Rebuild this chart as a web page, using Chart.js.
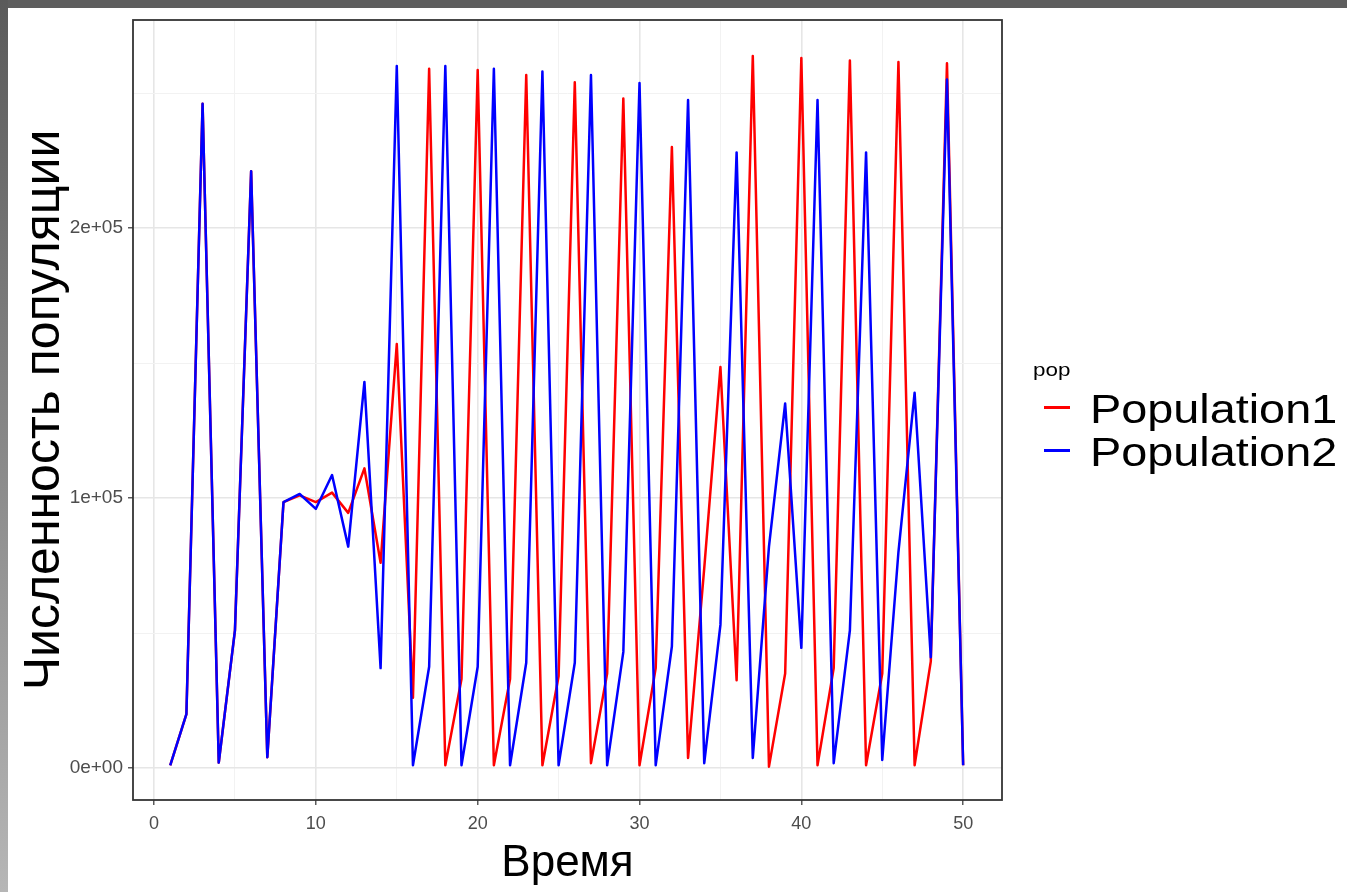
<!DOCTYPE html>
<html lang="ru">
<head>
    <meta charset="UTF-8">
    <title>Численность популяции</title>
    <style>
        * {
            margin: 0;
            padding: 0;
            box-sizing: border-box;
        }

        body {
            width: 1347px;
            height: 892px;
            background-color: #fff;
            overflow: hidden;
            position: relative;
            font-family: 'Liberation Sans', Arial, sans-serif;
        }

        .frame-top {
            position: absolute;
            left: 0;
            top: 0;
            width: 1347px;
            height: 8px;
            background-color: #5e5e5e;
        }

        .frame-left {
            position: absolute;
            left: 0;
            top: 0;
            width: 8px;
            height: 892px;
            background: linear-gradient(#5a5a5a, #b6b6b6);
        }

        #chart {
            position: absolute;
            left: 0;
            top: 0;
        }

        .legend-title,
        .legend-item {
            position: absolute;
            white-space: nowrap;
            transform-origin: left top;
            color: #000;
        }

        .legend-title {
            left: 1033px;
            top: 360px;
            font-size: 19px;
            line-height: 19px;
            transform: scaleX(1.18);
        }

        .legend-item {
            left: 1090px;
            font-size: 40px;
            line-height: 40px;
            transform: scaleX(1.17);
        }

        .legend-key {
            position: absolute;
            left: 1044px;
            width: 26px;
            height: 2.5px;
        }
    </style>
</head>
<body>
    <canvas id="chart" width="1347" height="892"></canvas>
    <div class="frame-top"></div>
    <div class="frame-left"></div>

    <div class="legend-title">pop</div>
    <div class="legend-key" style="top: 406px; background-color: #ff0000;"></div>
    <div class="legend-item" style="top: 389px;">Population1</div>
    <div class="legend-key" style="top: 449px; background-color: #0000ff;"></div>
    <div class="legend-item" style="top: 432px;">Population2</div>

    <script src="https://cdn.jsdelivr.net/npm/chart.js"></script>
    <script>
        // time steps
        const TIME = [1, 2, 3, 4, 5, 6, 7, 8, 9, 10,
                      11, 12, 13, 14, 15, 16, 17, 18, 19, 20,
                      21, 22, 23, 24, 25, 26, 27, 28, 29, 30,
                      31, 32, 33, 34, 35, 36, 37, 38, 39, 40,
                      41, 42, 43, 44, 45, 46, 47, 48, 49, 50];

        // Population1 (red)
        const POP1 = [1000, 20000, 246000, 2000, 51000, 221000, 4000, 98500, 101000, 98500,
                      102000, 94500, 111000, 76000, 157000, 26000, 259000, 1000, 33000, 258500,
                      1000, 33000, 256700, 1000, 34000, 254000, 1800, 35000, 248000, 1000,
                      37000, 230000, 3700, 74000, 148500, 32500, 263700, 500, 35000, 263000,
                      1000, 37000, 262000, 1000, 35000, 261500, 1000, 39500, 261000, 1000];

        // Population2 (blue)
        const POP2 = [1000, 20000, 246000, 2000, 51000, 221000, 4000, 98500, 101500, 96000,
                      108500, 82000, 143000, 37000, 260000, 1000, 37500, 260000, 1000, 37500,
                      259000, 1000, 39000, 258000, 1000, 39000, 256700, 1000, 43000, 253700,
                      1000, 45000, 247400, 1800, 53000, 228000, 3700, 82000, 135000, 44500,
                      247400, 1800, 51000, 228000, 3000, 80000, 139000, 41000, 255000, 1000];

        // axis ticks
        const X_MAJOR = [0, 10, 20, 30, 40, 50];
        const X_MINOR = [5, 15, 25, 35, 45];
        const Y_MAJOR = [0, 100000, 200000];
        const Y_MINOR = [50000, 150000, 250000];
        const Y_LABELS = ['0e+00', '1e+05', '2e+05'];

        const X_MIN = -1.3, X_MAX = 52.4;
        const Y_MIN = -11850, Y_MAX = 277040;

        const MAJOR_GRID = '#e6e6e6';
        const MINOR_GRID = '#f2f2f2';
        const TICK_TEXT = '#4d4d4d';
        const FONT = "'Liberation Sans', Arial, sans-serif";

        function toPoints(values) {
            return TIME.map((t, i) => ({ x: t, y: values[i] }));
        }

        function buildTicks(major, minor) {
            return major.concat(minor).sort((a, b) => a - b).map(v => ({ value: v }));
        }

        // ggplot-like panel border
        const panelBorder = {
            id: 'panelBorder',
            afterDatasetsDraw(chart) {
                const { ctx, chartArea } = chart;
                ctx.save();
                ctx.strokeStyle = '#333333';
                ctx.lineWidth = 1.8;
                ctx.strokeRect(chartArea.left, chartArea.top, chartArea.width, chartArea.height);
                ctx.restore();
            }
        };

        const ctx = document.getElementById('chart').getContext('2d');

        new Chart(ctx, {
            type: 'line',
            data: {
                datasets: [
                    {
                        label: 'Population1',
                        data: toPoints(POP1),
                        borderColor: '#ff0000',
                        borderWidth: 2.5,
                        borderJoinStyle: 'round',
                        pointRadius: 0,
                        tension: 0,
                        order: 1
                    },
                    {
                        label: 'Population2',
                        data: toPoints(POP2),
                        borderColor: '#0000ff',
                        borderWidth: 2.5,
                        borderJoinStyle: 'round',
                        pointRadius: 0,
                        tension: 0,
                        order: 0
                    }
                ]
            },
            options: {
                responsive: false,
                animation: false,
                layout: {
                    padding: { left: 0, top: 20, right: 345, bottom: 0 }
                },
                plugins: {
                    legend: { display: false },
                    tooltip: { enabled: false }
                },
                scales: {
                    x: {
                        type: 'linear',
                        min: X_MIN,
                        max: X_MAX,
                        afterBuildTicks: scale => { scale.ticks = buildTicks(X_MAJOR, X_MINOR); },
                        afterFit: scale => { scale.height = 92; },
                        border: { display: false },
                        grid: {
                            color: c => X_MAJOR.includes(c.tick.value) ? MAJOR_GRID : MINOR_GRID,
                            lineWidth: c => X_MAJOR.includes(c.tick.value) ? 1.6 : 1,
                            tickColor: c => X_MAJOR.includes(c.tick.value) ? '#333333' : 'rgba(0,0,0,0)',
                            tickLength: 5,
                            tickWidth: 1.2
                        },
                        ticks: {
                            autoSkip: false,
                            maxRotation: 0,
                            padding: 8,
                            color: TICK_TEXT,
                            font: { family: FONT, size: 18 },
                            callback: v => X_MAJOR.includes(v) ? String(v) : ''
                        },
                        title: {
                            display: true,
                            text: 'Время',
                            color: '#000',
                            font: { family: FONT, size: 44 },
                            padding: { top: 0, bottom: 2 }
                        }
                    },
                    y: {
                        min: Y_MIN,
                        max: Y_MAX,
                        afterBuildTicks: scale => { scale.ticks = buildTicks(Y_MAJOR, Y_MINOR); },
                        afterFit: scale => { scale.width = 133; },
                        border: { display: false },
                        grid: {
                            color: c => Y_MAJOR.includes(c.tick.value) ? MAJOR_GRID : MINOR_GRID,
                            lineWidth: c => Y_MAJOR.includes(c.tick.value) ? 1.6 : 1,
                            tickColor: c => Y_MAJOR.includes(c.tick.value) ? '#333333' : 'rgba(0,0,0,0)',
                            tickLength: 5,
                            tickWidth: 1.2
                        },
                        ticks: {
                            autoSkip: false,
                            padding: 5,
                            color: TICK_TEXT,
                            font: { family: FONT, size: 19 },
                            callback: v => {
                                const i = Y_MAJOR.indexOf(v);
                                return i >= 0 ? Y_LABELS[i] : '';
                            }
                        },
                        title: {
                            display: true,
                            text: 'Численность популяции',
                            color: '#000',
                            font: { family: FONT, size: 50 },
                            padding: { top: 15, bottom: 0 }
                        }
                    }
                }
            },
            plugins: [panelBorder]
        });
    </script>
</body>
</html>
